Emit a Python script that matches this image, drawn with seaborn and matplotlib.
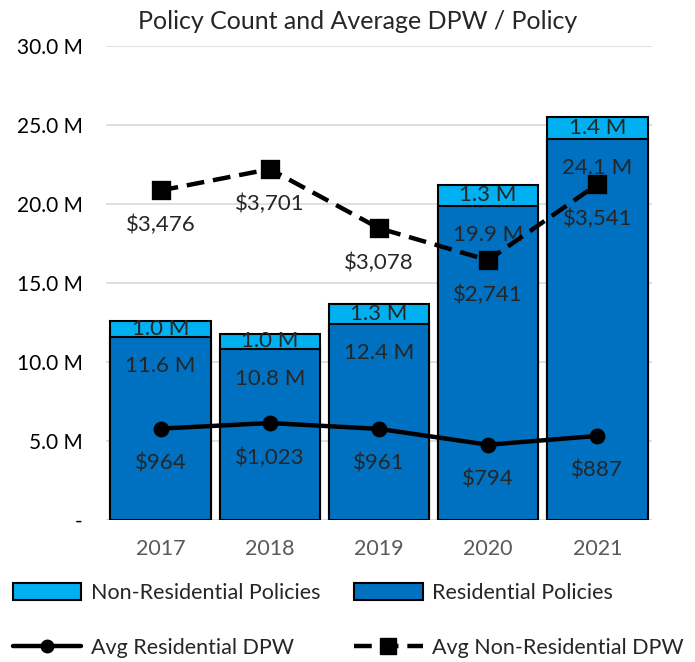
import matplotlib.pyplot as plt
from matplotlib.lines import Line2D
from matplotlib.patches import Patch
import numpy as np
import pandas as pd
import seaborn as sns

years = ['2017', '2018', '2019', '2020', '2021']
res_policies = [11.6, 10.8, 12.4, 19.9, 24.1]      # millions
nonres_policies = [1.0, 1.0, 1.3, 1.3, 1.4]        # millions
avg_res_dpw = [964, 1023, 961, 794, 887]
avg_nonres_dpw = [3476, 3701, 3078, 2741, 3541]

RES_C = '#0070C0'
NONRES_C = '#00B0F0'

sns.set_theme(style='white')
plt.rcParams['font.family'] = ['Lato', 'DejaVu Sans']

df = pd.DataFrame({'year': years, 'res': res_policies, 'nonres': nonres_policies,
                   'res_dpw': avg_res_dpw, 'nonres_dpw': avg_nonres_dpw})
df['total'] = df['res'] + df['nonres']

fig = plt.figure(figsize=(6.95, 6.62), dpi=100)
ax = fig.add_axes([0.1525, 0.2145, 0.7855, 0.716])

#### BARS (stacked: total first, residential on top of it) ####
sns.barplot(data=df, x='year', y='total', color=NONRES_C, saturation=1,
            edgecolor='black', linewidth=1.5, width=0.92, ax=ax, zorder=2)
sns.barplot(data=df, x='year', y='res', color=RES_C, saturation=1,
            edgecolor='black', linewidth=1.5, width=0.92, ax=ax, zorder=3)

ax.set_ylim(0, 30)
ax.set_xlim(-0.5, 4.5)
ax.set_yticks(np.arange(0, 31, 5))
ax.set_yticklabels(['-'] + ['%.1f M' % v for v in np.arange(5, 31, 5)])
ax.yaxis.grid(True, color='#D9D9D9', linewidth=1.2, zorder=0)
ax.set_axisbelow(True)
ax.tick_params(axis='y', length=0, pad=17, labelsize=15, labelcolor='black')
ax.tick_params(axis='x', length=0, pad=14, labelsize=15.5, labelcolor='#595959')
ax.set_xlabel('')
ax.set_ylabel('')
for s in ax.spines.values():
    s.set_visible(False)

for i, row in df.iterrows():
    ax.annotate('%.1f M' % row['res'], (i, row['res']), xytext=(0, -21),
                textcoords='offset points', ha='center', va='center', fontsize=16, zorder=6)
    ax.annotate('%.1f M' % row['nonres'], (i, row['res'] + row['nonres'] / 2),
                ha='center', va='center', fontsize=16, zorder=6)

#### LINES on hidden secondary axis ####
ax2 = ax.twinx()
ax2.set_ylim(0, 5000)
sns.pointplot(data=df, x='year', y='res_dpw', color='black', marker='o',
              markersize=9, linewidth=3.2, ax=ax2, zorder=5)
sns.pointplot(data=df, x='year', y='nonres_dpw', color='black', marker='s',
              markersize=12, linewidth=3.2, linestyle=(0, (4, 2)), ax=ax2, zorder=5)
ax2.set_xlim(-0.5, 4.5)
ax2.set_yticks([])
ax2.set_ylabel('')
ax2.set_xlabel('')
for s in ax2.spines.values():
    s.set_visible(False)

for i, row in df.iterrows():
    ax2.annotate('${:,}'.format(row['res_dpw']), (i, row['res_dpw']), xytext=(0, -25),
                 textcoords='offset points', ha='center', va='center', fontsize=16)
    ax2.annotate('${:,}'.format(row['nonres_dpw']), (i, row['nonres_dpw']), xytext=(0, -25),
                 textcoords='offset points', ha='center', va='center', fontsize=16)

fig.text(0.515, 0.968, 'Policy Count and Average DPW / Policy', ha='center', va='center', fontsize=18)

#### LEGENDS (one per entry, placed like the original) ####
leg_kw = dict(loc='center left', frameon=False, fontsize=15.5, handlelength=3.2,
              handleheight=0.8, handletextpad=0.45, borderpad=0, borderaxespad=0)
entries = [
    (Patch(facecolor=NONRES_C, edgecolor='black', linewidth=1.5), 'Non-Residential Policies', (0.018, 0.104)),
    (Patch(facecolor=RES_C, edgecolor='black', linewidth=1.5), 'Residential Policies', (0.509, 0.104)),
    (Line2D([], [], color='black', lw=3.2, marker='o', markersize=9), 'Avg Residential DPW', (0.018, 0.021)),
    (Line2D([], [], color='black', lw=3.2, marker='s', markersize=12, linestyle=(0, (4, 2))),
     'Avg Non-Residential DPW', (0.509, 0.021)),
]
for handle, label, anchor in entries:
    fig.legend([handle], [label], bbox_to_anchor=anchor, **leg_kw)

plt.savefig('out.png', dpi=100)
